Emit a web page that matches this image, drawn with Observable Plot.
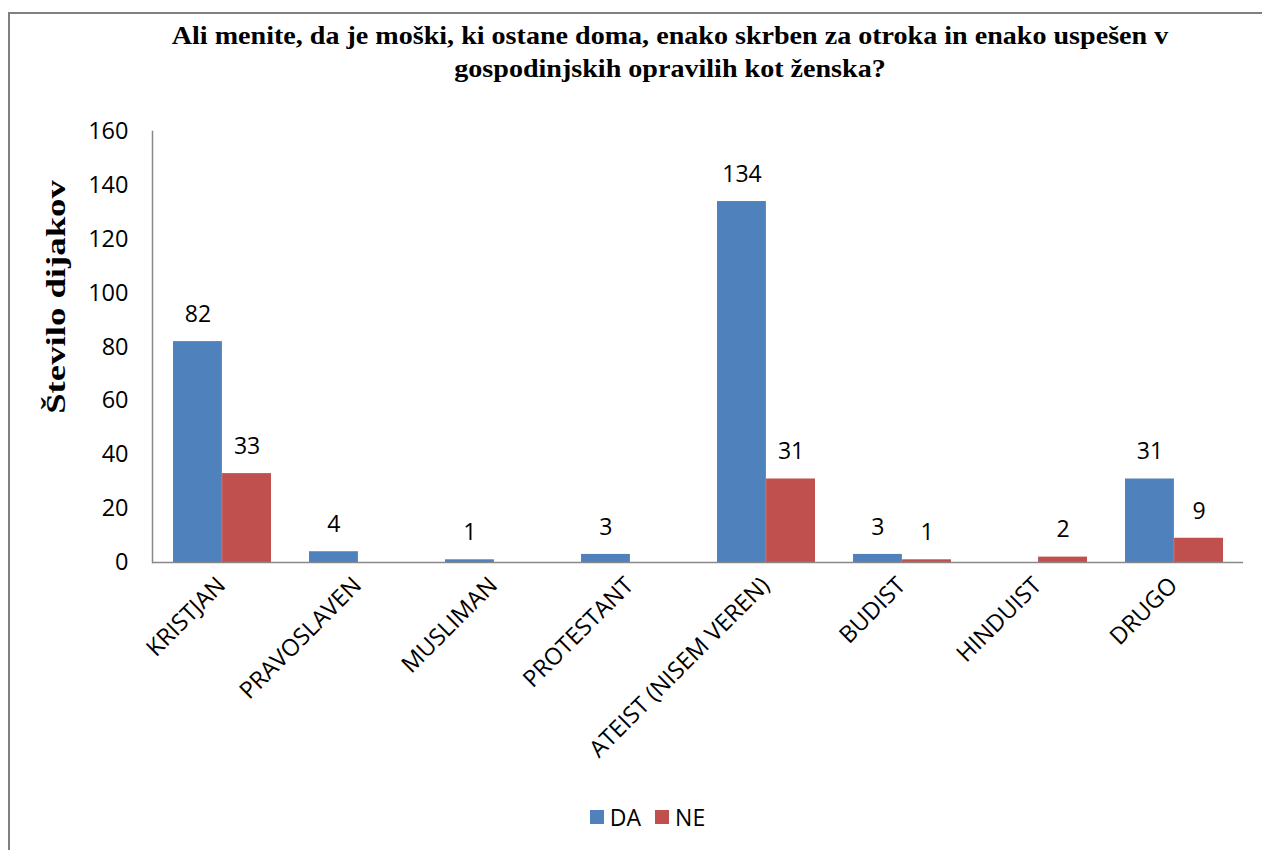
<!DOCTYPE html>
<html>
<head>
<meta charset="utf-8">
<script src="https://cdn.jsdelivr.net/npm/d3@7"></script>
<script src="https://cdn.jsdelivr.net/npm/@observablehq/plot@0.6"></script>
<style>
  body { margin: 0; background: #fff; width: 1262px; height: 850px; overflow: hidden; position: relative; font-family: "Open Sans", sans-serif; }
  #frame { position: absolute; left: 8px; top: 12px; width: 1300px; height: 900px; border-top: 2px solid #808080; border-left: 2px solid #808080; }
  #title { position: absolute; left: 70px; width: 1200px; top: 19px; text-align: center; font-family: "Liberation Serif", serif; font-weight: bold; font-size: 26px; line-height: 33px; color: #000; transform: scaleX(1.08); transform-origin: 600px 0; }
  #ylabel { position: absolute; left: 56px; top: 297px; transform: translate(-50%, -50%) rotate(-90deg) scaleX(1.36); font-family: "Liberation Serif", serif; font-weight: bold; font-size: 27px; white-space: nowrap; color: #000; }
  #chart { position: absolute; left: 0; top: 100px; }
  #legend { position: absolute; top: 801px; left: 0; width: 1295px; display: flex; justify-content: center; align-items: center; font-family: "Open Sans", sans-serif; font-size: 23px; color: #000; }
  .item { display: flex; align-items: center; margin: 0 7px; }
  .sw { width: 14px; height: 14px; margin-right: 6px; }
</style>
</head>
<body>
<div id="frame"></div>
<div id="title">Ali menite, da je moški, ki ostane doma, enako skrben za otroka in enako uspešen v<br>gospodinjskih opravilih kot ženska?</div>
<div id="ylabel">Število dijakov</div>
<div id="chart"></div>
<div id="legend"></div>
<script>
const categories = ["KRISTJAN", "PRAVOSLAVEN", "MUSLIMAN", "PROTESTANT", "ATEIST (NISEM VEREN)", "BUDIST", "HINDUIST", "DRUGO"];
const series = ["DA", "NE"];
const daValues = [82, 4, 1, 3, 134, 3, null, 31];
const neValues = [33, null, null, null, 31, 1, 2, 9];
const yTicks = [0, 20, 40, 60, 80, 100, 120, 140, 160];
const colors = ["#4F81BD", "#C0504D"];

const rows = [];
categories.forEach((c, i) => {
  if (daValues[i] != null) rows.push({category: c, series: "DA", value: daValues[i]});
  if (neValues[i] != null) rows.push({category: c, series: "NE", value: neValues[i]});
});

const W = 1262, H = 700, mL = 152, mR = 19, mT = 31, mB = 238;
const pIn = 0.28, pOut = 0.14;
const step = (W - mL - mR) / (categories.length - pIn + 2 * pOut);
const half = step * (1 - pIn) / 2;

const isDA = d => d.series === "DA";
const isNE = d => d.series === "NE";

const chart = Plot.plot({
  width: W, height: H,
  marginTop: mT, marginBottom: mB, marginLeft: mL, marginRight: mR,
  style: { fontFamily: "Open Sans", fontSize: "23px", color: "#000", background: "transparent", overflow: "visible" },
  x: { domain: categories, paddingInner: pIn, paddingOuter: pOut, axis: null },
  y: { domain: [0, 160], axis: null },
  color: { domain: series, range: colors },
  marks: [
    Plot.barY(rows, { filter: isDA, x: "category", y: "value", fill: "series", insetRight: half, insetLeft: 0 }),
    Plot.barY(rows, { filter: isNE, x: "category", y: "value", fill: "series", insetLeft: half, insetRight: 0 }),
    Plot.text(rows, { filter: isDA, x: "category", y: "value", text: d => String(d.value), dx: -half / 2, dy: -27, lineAnchor: "middle", fontSize: 23 }),
    Plot.text(rows, { filter: isNE, x: "category", y: "value", text: d => String(d.value), dx: half / 2, dy: -27, lineAnchor: "middle", fontSize: 23 }),
    Plot.ruleY([0], { stroke: "#888", strokeWidth: 1.5 }),
    Plot.frame({ anchor: "left", stroke: "#888", strokeWidth: 1.5 }),
    Plot.axisY(yTicks, { tickSize: 0, tickPadding: 24, fontSize: 23.5, label: null }),
    Plot.axisX({ tickSize: 0, tickPadding: 0, tickRotate: -45, textAnchor: "end", lineAnchor: "middle", dx: -1, dy: 19, fontSize: 23.5, label: null })
  ]
});
document.getElementById("chart").appendChild(chart);

const legend = document.getElementById("legend");
series.forEach((s, i) => {
  const item = document.createElement("div");
  item.className = "item";
  const sw = document.createElement("div");
  sw.className = "sw";
  sw.style.background = colors[i];
  const lab = document.createElement("span");
  lab.textContent = s;
  item.appendChild(sw);
  item.appendChild(lab);
  legend.appendChild(item);
});
</script>
</body>
</html>
